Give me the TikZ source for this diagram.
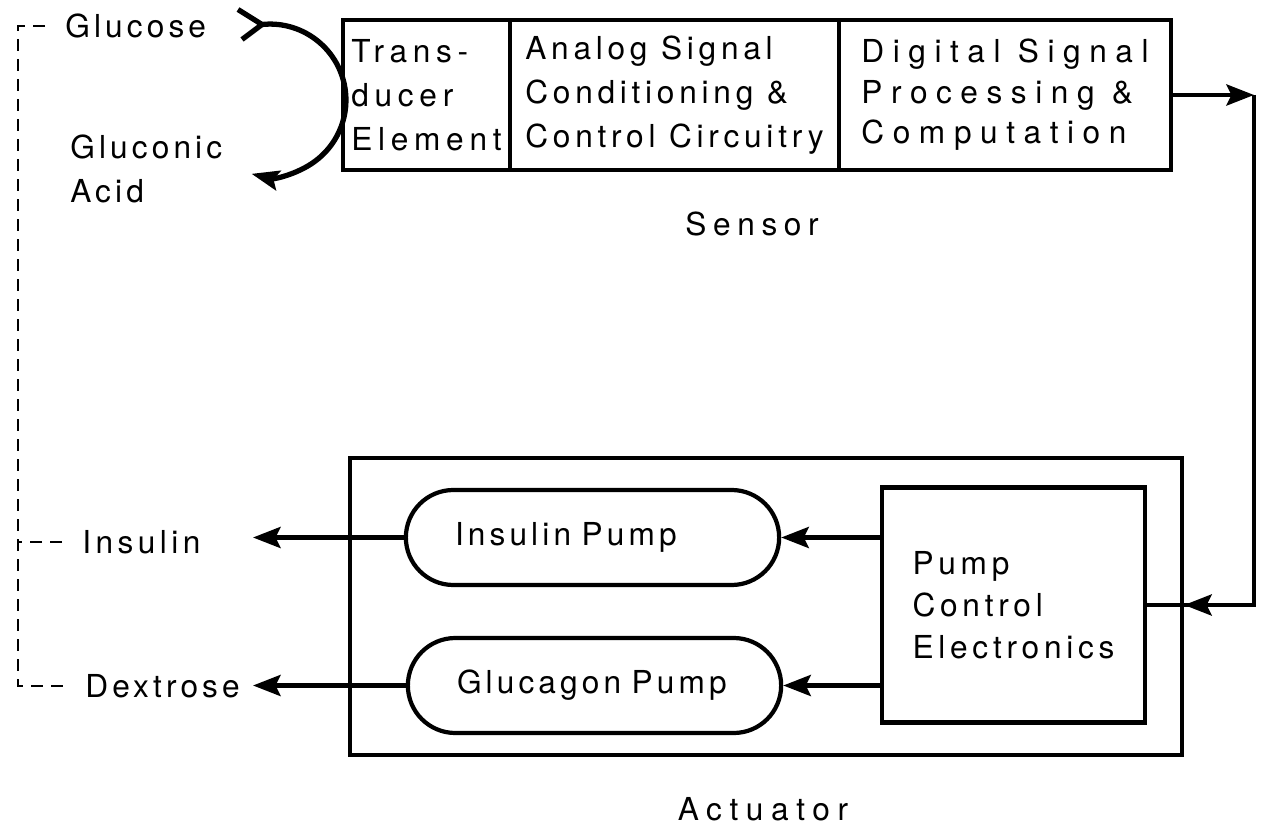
\documentclass[tikz,border=0pt]{standalone}
\usepackage{fontspec}
\setmainfont{TeX Gyre Heros}
\usepackage{tikz}
\usetikzlibrary{arrows.meta,positioning,shapes.misc}
\newcommand{\ls}[1]{\addfontfeature{LetterSpace=#1}}

\begin{document}
\begin{tikzpicture}[font=\fontsize{18}{25}\selectfont\ls{13},
  blk/.style={draw,line width=2.4pt,outer sep=0pt,inner xsep=2pt,minimum height=3.0cm,align=left},
  pump/.style={draw,line width=2.4pt,rounded rectangle,minimum width=7.7cm,minimum height=1.9cm,
    text width=5.5cm,align=left},
  lbl/.style={anchor=west,inner xsep=0.4cm,inner ysep=0pt,align=left},
  flow/.style={line width=2.6pt,-{Stealth[length=0.55cm,width=0.42cm,inset=0.1cm]}},
  fb/.style={line width=1.4pt,dash pattern=on 0.24cm off 0.16cm}]
\useasboundingbox (0,0) rectangle (25.24,-16.58);
% Sensor row
\node[blk,minimum width=3.34cm,font=\fontsize{18}{25}\selectfont\ls{18}] (trans) at (8.53,-1.9) {Trans-\\ducer\\Element};
\node[blk,minimum width=6.58cm,right=0pt of trans,font=\fontsize{18}{25}\selectfont\ls{15}] (asc) {Analog Signal\\Conditioning \&\\Control Circuitry};
\node[blk,minimum width=6.64cm,right=0pt of asc,font=\fontsize{18}{23}\selectfont\ls{27}] (dsp) {Digital Signal\\Processing \&\\Computation};
\node[font=\fontsize{18}{25}\selectfont\ls{21}] (sens) at (15.04,-4.48) {Sensor};

% Glucose side
\node[lbl] (glc) at (0.9,-0.52) {Glucose};
\node[lbl] (gla) at (1.0,-3.38) {Gluconic\\Acid};
\coordinate (rxn) at (5.4,-2.0);
\coordinate (tail) at (5.24,-0.49);
\draw[line width=3pt] ([shift={(-0.48,0.3)}]tail) -- (tail) -- ([shift={(-0.4,-0.3)}]tail);
\draw[line width=3pt,-{Stealth[length=0.55cm,width=0.4cm,inset=0.1cm]}]
  (tail) arc[start angle=96,end angle=-104,radius=1.52];

% Actuator
\node[draw,line width=2.4pt,minimum width=16.64cm,minimum height=5.94cm] (act) at (15.32,-12.13) {};
\node[pump] (ip) at (11.85,-10.75) {Insulin\ Pump};
\node[pump] (gp) at (11.89,-13.71) {Glucagon Pump};
\node[draw,line width=2.4pt,minimum width=5.26cm,minimum height=4.7cm,align=left,font=\fontsize{18}{24}\selectfont\ls{15}] (pce) at (20.27,-12.1) {Pump\\Control\\Electronics};
\node[font=\fontsize{18}{25}\selectfont\ls{24}] (actl) at (15.26,-16.18) {Actuator};

\draw[flow] (pce.west |- ip.east) -- (ip.east);
\draw[flow] (pce.west |- gp.east) -- (gp.east);

% outputs
\node[lbl,font=\fontsize{18}{25}\selectfont\ls{14}] (ins) at (1.24,-10.84) {Insulin};
\node[lbl] (dex) at (1.3,-13.72) {Dextrose};
\coordinate (outx) at (5.06,0);
\draw[flow] (ip.west) -- (ip.west -| outx);
\draw[flow] (gp.west) -- (gp.west -| outx);

% sensor to actuator loop
\coordinate (rx) at (25.08,0);
\draw[flow] (dsp.east) -- (dsp.east -| rx);
\draw[line width=2.6pt] (dsp.east -| rx) |- (pce.east);
\draw[flow] (pce.east -| rx) -- (pce.east -| act.east);

% body feedback
\coordinate (fbx) at (0.36,0);
\draw[fb] (glc.west) -- (glc.west -| fbx) -- (dex.west -| fbx) -- (dex.west);
\draw[fb] (ins.west) -- (ins.west -| fbx);
\end{tikzpicture}
\end{document}
